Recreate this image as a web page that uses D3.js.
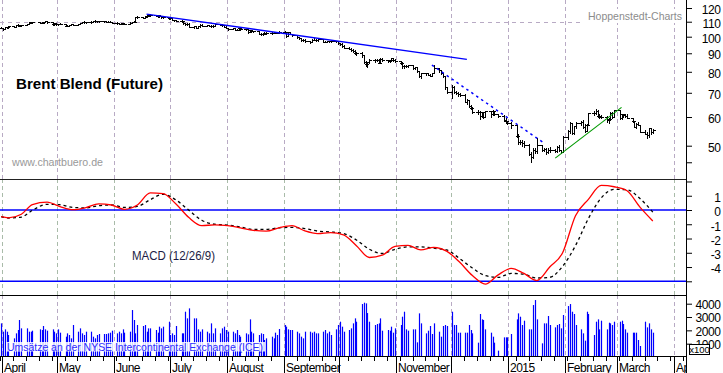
<!DOCTYPE html>
<html><head><meta charset="utf-8">
<script src="https://cdn.jsdelivr.net/npm/d3@7"></script>
<style>
html,body{margin:0;padding:0;background:#fff;}
svg{display:block;font-family:"Liberation Sans",Arial,Helvetica,sans-serif;}
</style></head><body>
<svg id="c" width="723" height="373"></svg>
<script>
// ---------------- DATA ----------------
// Daily closes of the Brent future, one per trading day (31 Mar 2014 - 20 Mar 2015)
const closes = [
105.9,104.8,106.1,106.2,107.0, 106.4,107.7,107.9,107.3,107.6, 108.4,109.4,109.6,109.5,
109.3,109.3,109.6,110.3,109.6, 108.1,108.9,108.1,108.3,108.6, 107.3,107.1,107.6,108.2,107.9,
108.4,109.2,109.6,109.8,109.8, 109.8,110.4,110.6,110.4,110.5, 110.3,110.0,109.8,109.9,109.4,
108.9,108.6,108.9,108.6,108.6, 109.4,109.7,110.0,113.0,113.4, 112.9,113.5,114.3,115.1,114.8,
114.1,114.5,114.0,113.2,113.3, 112.4,112.3,111.2,111.0,110.6, 110.2,108.9,108.3,108.7,106.7,
106.9,105.9,106.9,107.9,107.2, 107.6,107.3,107.1,107.1,108.4, 107.8,107.7,106.5,106.0,105.1,
105.5,104.6,104.6,105.4,105.0, 104.7,103.0,104.3,103.5,103.5, 102.0,101.6,101.9,102.6,102.3,
102.4,102.7,102.7,102.5,103.2, 102.8,100.3,102.8,101.8,100.8, 99.6,99.2,98.0,97.9,97.1,
96.7,98.2,98.0,97.7,98.4, 96.9,96.9,97.0,97.0,97.0, 97.2,95.9,95.6,94.5,93.2,
92.7,92.1,91.4,90.1,90.2, 88.9,85.0,83.8,84.9,86.2, 86.2,86.2,84.7,86.8,86.1,
85.8,86.0,87.1,86.2,85.9, 84.8,82.8,82.9,82.9,83.4, 81.7,82.3,80.4,77.9,79.4,
79.3,78.5,78.1,79.3,81.8, 80.7,79.2,77.8,72.6,70.2, 72.5,70.5,69.9,69.6,69.1,
66.2,66.8,64.2,63.7,61.9, 62.0,60.5,61.8,60.2,62.2, 61.0,62.3,61.0,60.4,
58.8,58.5,57.8,57.0, 53.1,51.1,51.2,51.0,50.1, 47.4,46.6,48.7,48.3,50.2,
48.8,49.0,48.0,48.5,48.8, 48.2,49.6,48.5,48.1,53.0, 54.8,57.9,54.2,56.6,57.8,
58.3,56.4,55.0,57.1,61.5, 61.4,62.5,60.5,60.2,60.2, 58.9,59.2,61.6,60.1,62.6,
59.5,61.0,60.6,60.5,59.7, 58.5,56.4,57.5,57.1,54.7, 53.9,53.5,55.9,54.4,55.3
];
const highs = [
106.4,105.9,106.3,106.6,107.3, 107.2,107.9,108.4,108.0,107.9, 108.6,109.8,110.0,109.9,
109.9,109.7,110.0,110.6,110.5, 109.6,109.1,109.0,108.6,108.9, 108.6,107.6,107.8,108.5,108.4,
108.6,109.4,110.0,110.2,110.1, 110.2,110.6,110.9,110.8,110.7, 110.6,110.4,110.2,110.3,110.0,
109.6,109.2,109.2,109.0,108.9, 109.6,110.0,110.4,113.6,114.0, 113.7,113.8,114.6,115.7,115.3,
115.0,114.8,114.9,114.2,113.7, 113.4,112.7,112.4,111.5,111.2, 110.9,110.3,109.2,109.0,108.9,
107.2,106.9,107.1,108.5,108.1, 107.9,107.8,107.5,107.6,108.6, 108.7,108.1,107.9,106.8,106.0,
105.8,105.7,105.2,105.8,106.0, 105.1,104.9,104.6,104.5,104.0, 103.5,102.4,102.3,102.9,103.0,
102.8,103.0,103.2,103.0,103.5, 103.4,103.0,103.1,103.0,102.0, 101.2,100.0,99.4,98.5,98.3,
97.4,98.4,99.0,98.4,98.6, 98.4,97.3,97.5,97.6,97.5, 97.6,97.4,96.3,95.8,94.6,
93.6,93.0,92.4,91.6,90.9, 90.6,89.2,85.9,85.4,86.6, 86.9,87.0,86.6,87.2,87.1,
86.3,86.4,87.6,87.3,86.7, 85.9,85.0,83.6,83.5,83.7, 83.4,82.6,82.6,80.5,79.6,
79.6,79.5,78.7,79.5,83.3, 81.6,80.8,79.3,78.0,72.8, 73.6,72.9,70.8,70.3,70.0,
69.3,67.3,66.9,64.8,63.8, 62.8,62.2,62.0,61.9,62.5, 62.2,62.7,62.3,61.2,
60.6,59.5,58.6,58.0, 56.6,53.8,52.0,51.9,51.5, 50.6,47.9,49.2,49.3,52.6,
50.3,49.4,49.3,49.2,49.5, 49.0,49.9,50.1,48.6,53.1, 55.1,58.1,57.7,56.8,58.0,
58.5,58.7,57.4,57.3,61.6, 62.5,63.0,62.6,61.2,60.8, 60.3,59.6,61.9,62.0,62.7,
62.5,61.2,61.3,61.1,61.0, 59.8,58.6,57.9,58.2,57.2, 55.3,54.4,56.1,56.0,55.6
];
const lows = [
105.4,104.6,104.9,105.7,106.0, 106.1,106.3,107.3,107.0,107.0, 107.4,108.2,109.0,109.2,
109.0,108.8,109.1,109.5,109.3, 108.0,108.0,108.0,107.7,108.1, 107.1,106.9,106.9,107.4,107.6,
107.8,108.2,109.0,109.3,109.4, 109.4,109.6,110.1,110.0,110.1, 110.0,109.8,109.5,109.5,109.2,
108.5,108.3,108.4,108.3,108.2, 108.6,109.2,109.5,109.9,112.5, 112.6,112.6,113.3,114.0,114.3,
113.8,113.7,113.6,112.9,112.8, 112.1,111.9,110.9,110.5,110.3, 109.8,108.6,107.9,107.8,106.4,
106.0,105.5,105.7,106.7,106.9, 107.1,106.9,106.6,106.7,107.0, 107.5,107.3,106.2,105.6,104.6,
104.8,104.4,104.1,104.4,104.6, 104.4,102.7,102.8,103.2,102.8, 101.8,101.3,101.4,101.7,102.0,
101.9,102.1,102.3,102.2,102.3, 102.6,100.0,100.2,101.5,100.5, 99.3,98.6,97.5,97.3,96.8,
96.2,96.4,97.7,97.0,97.5, 96.6,96.5,96.6,96.5,96.6, 96.7,95.5,94.8,93.6,92.8,
92.2,91.2,90.8,89.5,89.2, 88.1,84.6,83.1,82.6,84.6, 85.3,85.5,84.5,84.6,85.6,
85.1,85.2,85.8,85.8,85.3, 84.3,82.1,82.1,82.4,82.5, 81.4,81.2,80.1,77.5,77.1,
78.6,78.2,77.8,77.9,79.2, 79.9,78.9,77.3,71.8,69.8, 67.6,70.0,69.4,68.8,68.8,
66.0,65.3,63.9,63.1,61.7, 61.3,59.2,59.9,59.7,60.1, 60.2,60.6,60.6,59.9,
58.6,57.6,57.4,55.9, 52.7,50.5,50.4,50.0,49.7, 47.2,45.2,46.1,47.8,47.6,
48.3,48.2,47.5,47.7,48.0, 47.9,48.1,48.3,47.6,48.1, 52.2,54.3,54.0,54.0,56.0,
57.0,56.1,54.7,54.8,57.0, 60.8,61.0,60.2,59.6,59.7, 58.3,57.9,59.0,59.8,60.1,
59.4,59.3,60.2,60.2,59.6, 58.0,56.3,56.1,56.9,54.5, 53.7,52.5,53.0,54.0,54.2
];
// Daily volume (in units of 100 contracts), one per trading day
const volumes = [
2525,1900,2075,1900,1650,1400,1775,2025,2775,2150,
2150,1900,1900,1975,2075,2025,2325,2075,1975,2075,
1900,1775,2075,1825,1525,1775,1650,1400,2400,1900,
2150,1775,1650,1900,1900,1525,1400,1650,1725,1725,
1725,1775,1825,1975,1775,1900,1775,2075,1825,1900,
3525,2775,1775,2400,2325,2400,1900,2150,2150,2025,
1825,2275,2150,2275,2650,1650,1775,1650,2325,1775,
1775,3400,2900,3650,2900,2900,2075,1900,2075,1900,
1775,2525,1775,2150,1775,2150,2275,2025,1900,1900,
1775,2025,1650,1525,1775,1700,2825,1900,1775,1650,
1775,1725,1275,1400,1525,1400,1825,1650,2100,2400,
2275,2075,2025,2025,1900,1775,1525,1400,1900,1900,
1825,1900,1775,1775,1900,2025,1775,1900,1650,2075,
2400,2650,2275,1900,2025,2150,2525,2900,2650,
3975,4075,4025,3300,2650,2400,2475,2525,2900,1975,
2025,1975,2275,1825,2150,2400,3025,3400,2075,1975,
2075,2075,1100,3275,2525,1775,1975,2325,1725,2525,
1900,1525,2325,2400,2325,3400,2400,2400,1825,1825,
1825,1825,2400,2025,1775,1075,3225,2825,2775,2075,
1825,1525,1075,475,1475,1475,1475,1725,2825,3275,
3025,2400,2725,2075,2075,3900,4275,2825,1025,2525,
2525,3075,2400,2225,2400,2475,2150,3150,3825,3975,
3400,3225,2400,2075,1775,1225,3400,3225,1650,2650,
2825,2075,2725,2075,2575,2525,2400,2650,2650,2725,
2475,2075,1825,1825,1825,1825,1275,825,2650,2225,
2525,2075,1825
];
// MACD (12/26/9) and signal, first trading day then the last trading day of every week
const macdLine = [
-0.47, -0.55,-0.3,0.38,0.55,0.24,0.02,0.16,0.43,0.35,0.05,
0.35,1.2,1.15,0.42,-0.53,-1.1,-1.04,-1.09,-1.25,-1.43,
-1.48,-1.25,-1.1,-1.47,-1.65,-1.58,-1.75,-2.5,-3.33,-3.17,
-2.55,-2.48,-2.8,-2.62,-2.88,-3.65,-4.6,-5.2,-4.55,-4.1,
-4.45,-4.95,-4.0,-3.0,-0.4,0.75,1.72,1.63,1.35,0.2,-0.77
];
const signalLine = [
-0.47, -0.56,-0.5,-0.02,0.4,0.37,0.18,0.15,0.3,0.35,0.18,
0.25,0.72,1.1,0.7,-0.02,-0.72,-1.0,-1.06,-1.19,-1.36,
-1.36,-1.25,-1.22,-1.3,-1.48,-1.54,-1.65,-2.1,-2.75,-3.05,
-2.75,-2.59,-2.59,-2.68,-2.8,-3.4,-4.07,-4.6,-4.72,-4.45,
-4.5,-4.77,-4.72,-3.95,-2.5,-0.6,0.85,1.45,1.42,0.8,-0.15
];
const holidays = ["2014-04-18","2014-12-25","2015-01-01"];
// Trend lines drawn on the price chart: [date, price]
const trendSolid  = [["2014-06-18",115.5],["2014-12-09",86.6]];
const trendDotted = [["2014-11-20",83.5],["2015-01-20",50.8]];
const trendGreen  = [["2015-01-26",46.2],["2015-03-03",63.8]];
// Axis ticks / labels
const priceTicks = [50,60,70,80,90,100,110,120];
const priceMinorTicks = [45];
const priceGrid = [110];
const macdTicks = [1,0,-1,-2,-3,-4];
const macdMinorTicks = [2,-5];
const macdRefLines = [0,-5];
const volumeTicks = [1000,2000,3000,4000];
const monthLabels = ["April","May","June","July","August","September","","November","","2015","February","March","April"];

// ---------------- LAYOUT ----------------
const W=723, H=373, R=686;
const P={top:0,bottom:179}, M={top:179,bottom:295}, V={top:295,bottom:356};
const svg=d3.select("#c");
const DAY=86400000;

// trading days
const days=[];
for(let t=Date.UTC(2014,2,31); t<=Date.UTC(2015,2,20); t+=DAY){
  const d=new Date(t), wd=d.getUTCDay();
  if(wd===0||wd===6) continue;
  if(holidays.includes(d.toISOString().slice(0,10))) continue;
  days.push(d);
}
const weekEnds=[days[0]];
days.forEach((d,i)=>{ if(i===days.length-1 || days[i+1].getUTCDay()<d.getUTCDay()) weekEnds.push(d); });

const x=d3.scaleUtc().domain([Date.UTC(2014,3,1),Date.UTC(2015,3,1)]).range([2,674]);
const xb=d=>Math.round(x(d.getTime()+DAY/2))+0.5;
const yP=d3.scaleLog().domain([50,100]).range([145.7,36.7]);
const yM=d3.scaleLinear().domain([0,-5]).range([210,281.3]);
const yV=d3.scaleLinear().domain([0,4000]).range([357,303.7]);
const pd=s=>new Date(s+"T12:00:00Z");

const defs=svg.append("defs");
function clip(id,x0,y0,x1,y1){defs.append("clipPath").attr("id",id).append("rect").attr("x",x0).attr("y",y0).attr("width",x1-x0).attr("height",y1-y0);}
clip("cp",0,P.top,R,P.bottom); clip("cm",0,M.top,R,M.bottom); clip("cv",0,V.top,R,V.bottom); clip("cx",0,V.bottom,R,H);

svg.append("rect").attr("width",W).attr("height",H).attr("fill","#fff");

// month grid
const months=d3.utcMonth.range(new Date(Date.UTC(2014,3,1)),new Date(Date.UTC(2015,3,2)));
const grid=svg.append("g").attr("stroke-dasharray","4,3").attr("stroke-width",1).attr("shape-rendering","crispEdges");
[[P,"#b8aac4"],[M,"#a9bba9"],[V,"#b8aac4"]].forEach(([pan,col])=>{
  grid.selectAll(null).data(months).join("line")
    .attr("x1",d=>Math.round(x(d))+0.5).attr("x2",d=>Math.round(x(d))+0.5)
    .attr("y1",pan.top).attr("y2",pan.bottom).attr("stroke",col);
});
svg.append("g").selectAll("line").data(priceGrid).join("line")
  .attr("x1",0).attr("x2",R).attr("y1",d=>Math.round(yP(d))+0.5).attr("y2",d=>Math.round(yP(d))+0.5)
  .attr("stroke","#b8aac4").attr("stroke-dasharray","4,4").attr("shape-rendering","crispEdges");

// Hoppenstedt label with white background
svg.append("rect").attr("x",584).attr("y",9).attr("width",101).attr("height",14).attr("fill","#fff");
svg.append("text").attr("x",588).attr("y",20).attr("font-size",11).attr("fill","#8c8c8c")
  .attr("textLength",94).attr("lengthAdjust","spacingAndGlyphs").text("Hoppenstedt-Charts");

// ---------------- PRICE BARS ----------------
const gp=svg.append("g").attr("clip-path","url(#cp)");
const ry=v=>Math.round(yP(v))+0.5;
gp.append("path").attr("fill","none").attr("stroke","#000").attr("stroke-width",1).attr("shape-rendering","crispEdges")
  .attr("d",days.map((d,i)=>{
    const c=closes[i], o=i?closes[i-1]:c;
    const hi=Math.max(highs[i],o,c), lo=Math.min(lows[i],o,c);
    const xx=xb(d);
    return `M${xx},${ry(hi)-0.5}V${ry(lo)+0.5}M${xx-2.5},${ry(o)}H${xx}M${xx},${ry(c)}H${xx+2.5}`;
  }).join(""));

const tl=d3.line().x(d=>x(pd(d[0]))).y(d=>yP(d[1]));
gp.append("path").attr("d",tl(trendSolid)).attr("stroke","#0000ff").attr("stroke-width",1.3).attr("fill","none");
gp.append("path").attr("d",tl(trendDotted)).attr("stroke","#0000ff").attr("stroke-width",1.5).attr("stroke-dasharray","2.5,3.5").attr("fill","none");
gp.append("path").attr("d",tl(trendGreen)).attr("stroke","#009900").attr("stroke-width",1.1).attr("fill","none");

svg.append("text").attr("x",16).attr("y",89).attr("font-size",15).attr("font-weight","bold").attr("fill","#000")
  .attr("textLength",147).attr("lengthAdjust","spacingAndGlyphs").text("Brent Blend (Future)");
svg.append("text").attr("x",12).attr("y",166).attr("font-size",11).attr("fill","#999")
  .attr("textLength",91).attr("lengthAdjust","spacingAndGlyphs").text("www.chartbuero.de");

// ---------------- MACD ----------------
const gm=svg.append("g").attr("clip-path","url(#cm)");
gm.selectAll("line.ref").data(macdRefLines).join("line").attr("class","ref")
  .attr("x1",0).attr("x2",R).attr("y1",d=>yM(d)).attr("y2",d=>yM(d)).attr("stroke","#0000ff").attr("stroke-width",1.5);
const lm=d3.line().x((d,i)=>x(weekEnds[i].getTime()+DAY/2)).y(d=>yM(d)).curve(d3.curveMonotoneX);
gm.append("path").attr("d",lm(signalLine)).attr("fill","none").attr("stroke","#000").attr("stroke-width",1.3).attr("stroke-dasharray","3,3");
gm.append("path").attr("d",lm(macdLine)).attr("fill","none").attr("stroke","#ff0000").attr("stroke-width",1.3);
svg.append("text").attr("x",132).attr("y",259.5).attr("font-size",12).attr("fill","#1c1c44")
  .attr("textLength",83).attr("lengthAdjust","spacingAndGlyphs").text("MACD (12/26/9)");

// ---------------- VOLUME ----------------
const gv=svg.append("g").attr("clip-path","url(#cv)");
gv.selectAll("line").data(days).join("line")
  .attr("x1",d=>xb(d)).attr("x2",d=>xb(d)).attr("y1",(d,i)=>yV(volumes[i])).attr("y2",yV(0))
  .attr("stroke","#0000ff").attr("stroke-width",1.2);
svg.append("rect").attr("x",6).attr("y",342).attr("width",259).attr("height",9.5).attr("fill","#fff").attr("opacity",0.85);
svg.append("text").attr("x",7).attr("y",350.5).attr("font-size",10.5).attr("fill","#2b2bff")
  .attr("textLength",256).attr("lengthAdjust","spacingAndGlyphs").text("Umsätze an der NYSE Intercontinental Exchange (ICE)");

// ---------------- FRAMES ----------------
const frame=svg.append("g").attr("stroke","#000").attr("shape-rendering","crispEdges");
frame.append("line").attr("x1",0).attr("x2",R).attr("y1",179.5).attr("y2",179.5).attr("stroke","#222").attr("stroke-width",1.2);
frame.append("line").attr("x1",0).attr("x2",R).attr("y1",295.5).attr("y2",295.5).attr("stroke-width",1.5);
frame.append("line").attr("x1",0).attr("x2",R+1).attr("y1",356.5).attr("y2",356.5).attr("stroke-width",1.5);
frame.append("line").attr("x1",R+0.5).attr("x2",R+0.5).attr("y1",0).attr("y2",373).attr("stroke-width",1.5);

// ---------------- RIGHT AXES ----------------
function rightAxis(scale,ticks,minor,fmt,dy){
  const g=svg.append("g").attr("transform",`translate(${R},0)`);
  g.call(d3.axisRight(scale).tickValues(ticks.concat(minor)).tickSize(6).tickFormat(v=>minor.includes(v)?"":fmt(v)));
  g.select(".domain").remove();
  g.selectAll(".tick line").attr("stroke","#000").attr("stroke-width",1);
  g.selectAll(".tick text").attr("x",34.5).attr("dy",dy).attr("text-anchor","end")
    .attr("font-size",12).attr("font-family","Liberation Sans, Arial, sans-serif").attr("fill","#000").attr("letter-spacing","-0.4");
  return g;
}
rightAxis(yP,priceTicks,priceMinorTicks,d3.format("d"),"0.45em");
rightAxis(yM,macdTicks,macdMinorTicks,v=>v<0?"-"+Math.abs(v):String(v),"0.48em");
rightAxis(yV,volumeTicks,[],d3.format("d"),"0.4em");
svg.append("rect").attr("x",689.5).attr("y",344.5).attr("width",20).attr("height",10).attr("fill","#fff").attr("stroke","#000").attr("stroke-width",1);
svg.append("text").attr("x",699.5).attr("y",352.5).attr("text-anchor","middle").attr("font-size",9.5).attr("fill","#000").text("x100");

// ---------------- BOTTOM TIME AXIS ----------------
const gx=svg.append("g").attr("clip-path","url(#cx)").attr("shape-rendering","crispEdges");
const mondays=d3.utcMonday.range(new Date(Date.UTC(2014,2,31)),new Date(Date.UTC(2015,3,10)));
gx.selectAll("line.w").data(mondays).join("line").attr("class","w")
  .attr("x1",d=>Math.round(x(d))+0.5).attr("x2",d=>Math.round(x(d))+0.5).attr("y1",356).attr("y2",361).attr("stroke","#000");
gx.selectAll("line.m").data(months).join("line").attr("class","m")
  .attr("x1",d=>Math.round(x(d))+0.5).attr("x2",d=>Math.round(x(d))+0.5).attr("y1",356).attr("y2",373).attr("stroke","#000").attr("stroke-width",1.2);
gx.selectAll("text").data(months).join("text")
  .attr("x",d=>Math.round(x(d))+2).attr("y",371.5).attr("font-size",12).attr("letter-spacing","-0.5").attr("fill","#000")
  .text((d,i)=>monthLabels[i]);
</script>
</body></html>
